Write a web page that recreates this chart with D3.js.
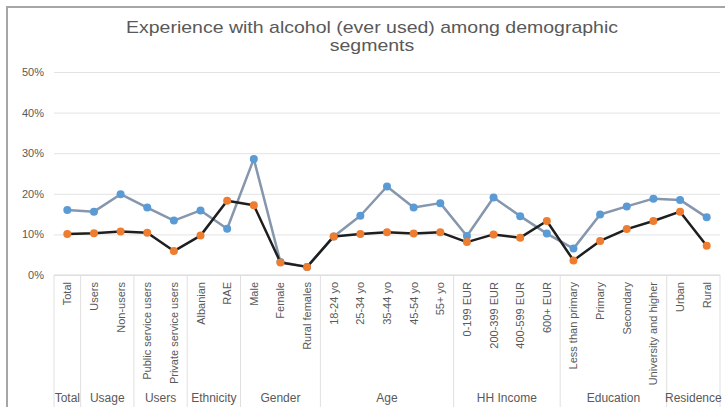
<!DOCTYPE html>
<html>
<head>
<meta charset="utf-8">
<script src="https://cdn.jsdelivr.net/npm/d3@7"></script>
<style>
  body { margin: 0; background: #fff; }
  svg { display: block; font-family: "Liberation Sans", Arial, sans-serif; }
</style>
</head>
<body>
<svg id="chart" width="725" height="407"></svg>
<script>
// categories along the x axis
var categories = ["Total", "Users", "Non-users", "Public service users", "Private service users",
    "Albanian", "RAE", "Male", "Female", "Rural females",
    "18-24 yo", "25-34 yo", "35-44 yo", "45-54 yo", "55+ yo",
    "0-199 EUR", "200-399 EUR", "400-599 EUR", "600+ EUR",
    "Less than primary", "Primary", "Secondary", "University and higher",
    "Urban", "Rural"];

// group labels under the categories and how many categories each spans
var groupNames = ["Total", "Usage", "Users", "Ethnicity", "Gender", "Age", "HH Income", "Education", "Residence"];
var groupSizes = [1, 2, 2, 2, 3, 5, 4, 4, 2];

// series values, in %
var blueValues = [16.0, 15.6, 19.9, 16.6, 13.4, 15.9, 11.4, 28.6, 3.2, 2.0,
    9.5, 14.6, 21.8, 16.6, 17.7, 9.6, 19.1, 14.5, 10.2, 6.5, 14.9, 16.9, 18.8, 18.5, 14.2];
var orangeValues = [10.1, 10.3, 10.7, 10.4, 5.9, 9.7, 18.3, 17.2, 3.1, 2.0,
    9.5, 10.1, 10.5, 10.2, 10.5, 8.1, 10.0, 9.2, 13.3, 3.6, 8.4, 11.3, 13.3, 15.6, 7.2];

var yTicks = [0, 10, 20, 30, 40, 50];

var svg = d3.select("#chart");

// frame (top and left edges visible)
svg.append("line").attr("x1", 6).attr("x2", 725).attr("y1", 7).attr("y2", 7)
    .attr("stroke", "#a6a6a6").attr("stroke-width", 2);
svg.append("line").attr("x1", 7).attr("x2", 7).attr("y1", 6).attr("y2", 407)
    .attr("stroke", "#a6a6a6").attr("stroke-width", 2);

// title - the original font is a bit wider than Arial, so stretch it
var title = svg.append("text")
    .attr("text-anchor", "middle")
    .attr("fill", "#595959")
    .style("font-size", "17px");
var t1 = title.append("tspan").attr("x", 372).attr("y", 33).text("Experience with alcohol (ever used) among demographic");
var t2 = title.append("tspan").attr("x", 372).attr("y", 51).text("segments");
var stretch = 492 / t1.node().getComputedTextLength();
[t1, t2].forEach(t => {
    t.attr("textLength", t.node().getComputedTextLength() * stretch)
        .attr("lengthAdjust", "spacingAndGlyphs");
});

const plotLeft = 54, plotRight = 720, plotTop = 72, plotBottom = 275;

var x = d3.scaleBand()
    .domain(categories)
    .range([plotLeft, plotRight]);

var y = d3.scaleLinear()
    .domain([0, 50])
    .range([plotBottom, plotTop]);

// gridlines + y labels
var yAxis = svg.append("g")
    .attr("transform", "translate(" + plotLeft + ",0)")
    .call(d3.axisLeft(y).tickValues(yTicks).tickSize(-(plotRight - plotLeft)).tickFormat(d => d + "%"));
yAxis.select(".domain").remove();
yAxis.selectAll(".tick line").attr("stroke", "#e3e3e3").attr("stroke-width", 1);
yAxis.selectAll(".tick text")
    .attr("x", -10)
    .attr("fill", "#595959")
    .style("font-size", "11px")
    .style("font-family", "\"Liberation Sans\", Arial, sans-serif");

// category axis line
svg.append("line").attr("x1", plotLeft).attr("x2", plotRight).attr("y1", plotBottom).attr("y2", plotBottom)
    .attr("stroke", "#d9d9d9");

// group separators
var boundaries = [0];
groupSizes.forEach((n, i) => boundaries.push(boundaries[i] + n));
var edgeX = b => b < categories.length ? x(categories[b]) : plotRight;
svg.selectAll(".sep")
    .data(boundaries)
    .enter().append("line")
    .attr("class", "sep")
    .attr("x1", edgeX)
    .attr("x2", edgeX)
    .attr("y1", plotBottom)
    .attr("y2", 407)
    .attr("stroke", "#e0e0e0");

// category labels, rotated
svg.selectAll(".catLabel")
    .data(categories)
    .enter().append("text")
    .attr("class", "catLabel")
    .attr("transform", c => "translate(" + (x(c) + x.bandwidth() / 2 + 4) + ",282) rotate(-90)")
    .attr("text-anchor", "end")
    .attr("fill", "#595959")
    .style("font-size", "11px")
    .text(c => c);

// group labels
svg.selectAll(".groupLabel")
    .data(groupNames)
    .enter().append("text")
    .attr("class", "groupLabel")
    .attr("x", (g, i) => (edgeX(boundaries[i]) + edgeX(boundaries[i + 1])) / 2)
    .attr("y", 402)
    .attr("text-anchor", "middle")
    .attr("fill", "#595959")
    .style("font-size", "12px")
    .text(g => g);

function drawSeries(values, lineColor, dotColor) {
    var pts = values.map((v, i) => [x(categories[i]) + x.bandwidth() / 2, y(v)]);
    svg.append("path")
        .attr("d", d3.line()(pts))
        .attr("fill", "none")
        .attr("stroke", lineColor)
        .attr("stroke-width", 2.5)
        .attr("stroke-linejoin", "round");
    svg.append("g").selectAll("circle")
        .data(pts)
        .enter().append("circle")
        .attr("cx", p => p[0])
        .attr("cy", p => p[1])
        .attr("r", 4)
        .attr("fill", dotColor);
}

drawSeries(blueValues, "#8596ad", "#5b9bd5");
drawSeries(orangeValues, "#1e1e1e", "#ed7d31");
</script>
</body>
</html>
